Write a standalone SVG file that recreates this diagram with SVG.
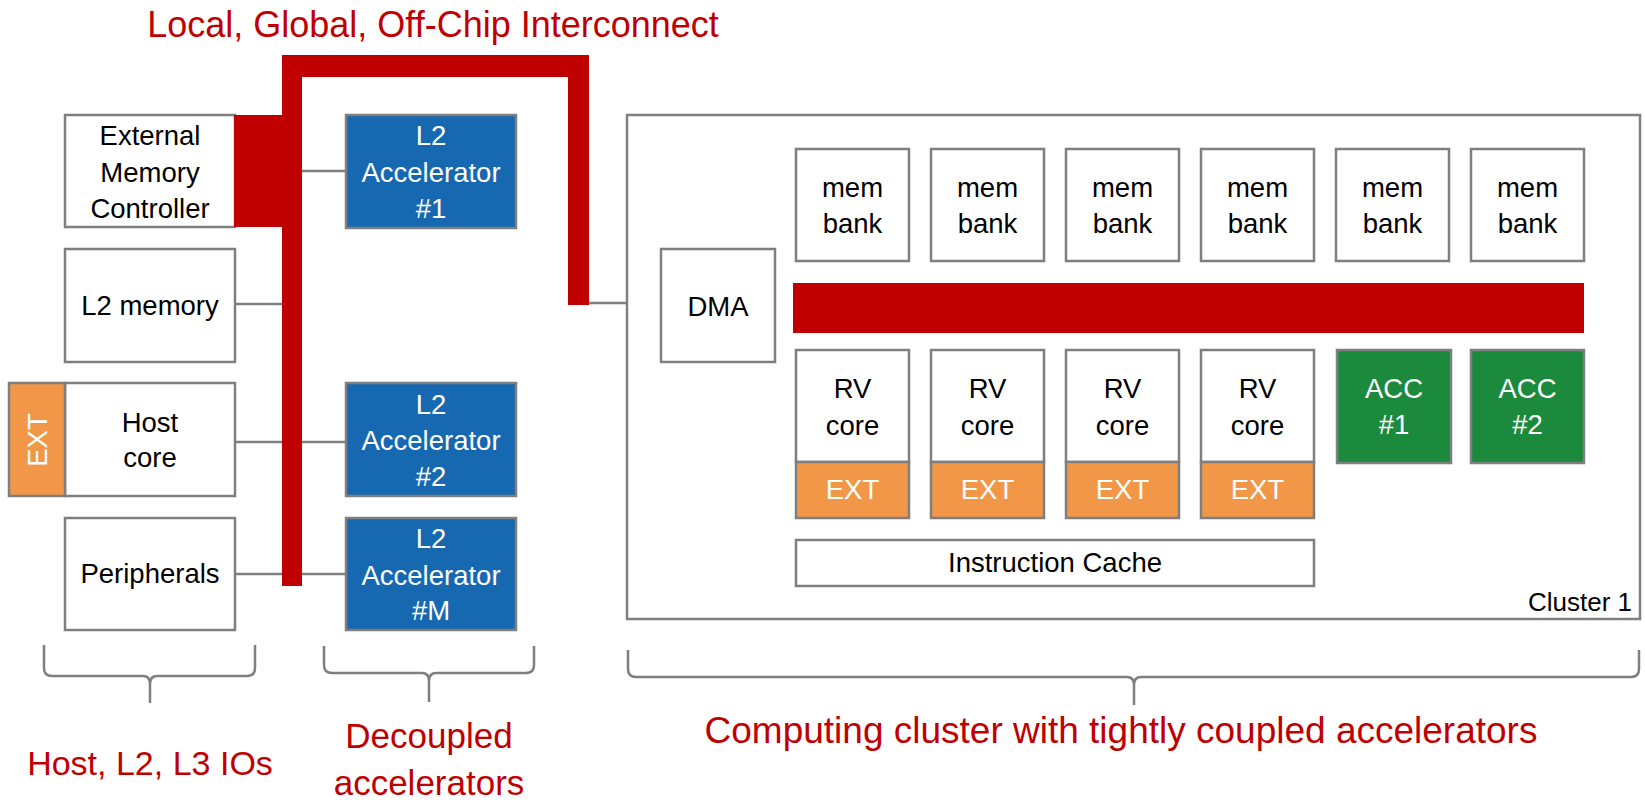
<svg xmlns="http://www.w3.org/2000/svg" width="1645" height="804" viewBox="0 0 1645 804">
<defs>
<style>
text{font-family:"Liberation Sans",Arial,sans-serif;}
.box{fill:#ffffff;stroke:#7f7f7f;stroke-width:2.5;}
.blue{fill:#1668b0;stroke:#7f7f7f;stroke-width:2.5;}
.green{fill:#1b8a3c;stroke:#7f7f7f;stroke-width:2.5;}
.orange{fill:#f29747;stroke:#7f7f7f;stroke-width:2.5;}
.red{fill:#c00000;}
.t{font-size:27.5px;fill:#000;text-anchor:middle;}
.tw{font-size:27.5px;fill:#fff;text-anchor:middle;}
.lbl{fill:#c00000;text-anchor:middle;}
.conn{stroke:#7f7f7f;stroke-width:2.5;fill:none;}
.lconn{stroke:#e3e3e3;stroke-width:2.5;fill:none;}
.brace{stroke:#7f7f7f;stroke-width:2.5;fill:none;}
</style>
</defs>
<rect width="1645" height="804" fill="#ffffff"/>

<text class="lbl" x="433" y="37" style="font-size:36px">Local, Global, Off-Chip Interconnect</text>

<g id="connectors">
<line class="conn" x1="235" y1="304" x2="283" y2="304"/>
<line class="conn" x1="301" y1="171" x2="346" y2="171"/>
<line class="conn" x1="235" y1="442" x2="283" y2="442"/>
<line class="conn" x1="301" y1="442" x2="346" y2="442"/>
<line class="conn" x1="235" y1="574" x2="283" y2="574"/>
<line class="conn" x1="301" y1="574" x2="346" y2="574"/>
<line class="conn" x1="588" y1="303" x2="628" y2="303"/>
<line class="lconn" x1="628" y1="305" x2="661" y2="305"/>
<line class="lconn" x1="775" y1="306" x2="793" y2="306"/>
<polyline class="lconn" points="645,305 645,562 796,562"/>
<line class="lconn" x1="852.5" y1="261" x2="852.5" y2="283"/>
<line class="lconn" x1="987.5" y1="261" x2="987.5" y2="283"/>
<line class="lconn" x1="1122.5" y1="261" x2="1122.5" y2="283"/>
<line class="lconn" x1="1257.5" y1="261" x2="1257.5" y2="283"/>
<line class="lconn" x1="1392.5" y1="261" x2="1392.5" y2="283"/>
<line class="lconn" x1="1527.5" y1="261" x2="1527.5" y2="283"/>
<line class="lconn" x1="852.5" y1="333" x2="852.5" y2="350"/>
<line class="lconn" x1="987.5" y1="333" x2="987.5" y2="350"/>
<line class="lconn" x1="1122.5" y1="333" x2="1122.5" y2="350"/>
<line class="lconn" x1="1257.5" y1="333" x2="1257.5" y2="350"/>
<line class="lconn" x1="1392.5" y1="333" x2="1392.5" y2="350"/>
<line class="lconn" x1="1527.5" y1="333" x2="1527.5" y2="350"/>
<line class="lconn" x1="852.5" y1="518" x2="852.5" y2="540"/>
<line class="lconn" x1="987.5" y1="518" x2="987.5" y2="540"/>
<line class="lconn" x1="1122.5" y1="518" x2="1122.5" y2="540"/>
<line class="lconn" x1="1257.5" y1="518" x2="1257.5" y2="540"/>
</g>

<g id="interconnect">
<rect class="red" x="282" y="55" width="20" height="531"/>
<rect class="red" x="282" y="55" width="307" height="22"/>
<rect class="red" x="568" y="55" width="21" height="250"/>
</g>

<g id="ext-mem-ctrl">
<rect class="box" x="65" y="115" width="170" height="112"/>
<rect class="red" x="234" y="115" width="49" height="112"/>
<text class="t" x="150" y="145">External</text>
<text class="t" x="150" y="182">Memory</text>
<text class="t" x="150" y="218">Controller</text>
</g>

<g id="l2-memory">
<rect class="box" x="65" y="249" width="170" height="113"/>
<text class="t" x="150" y="315">L2 memory</text>
</g>

<g id="host-core">
<rect class="box" x="65" y="383" width="170" height="113"/>
<text class="t" x="150" y="432">Host</text>
<text class="t" x="150" y="467">core</text>
</g>

<g id="host-ext">
<rect class="orange" x="9" y="383" width="56" height="113"/>
<text class="tw" transform="translate(37,440) rotate(-90)" x="0" y="9.5">EXT</text>
</g>

<g id="peripherals">
<rect class="box" x="65" y="518" width="170" height="112"/>
<text class="t" x="150" y="583">Peripherals</text>
</g>

<g id="l2-acc-1">
<rect class="blue" x="346" y="115" width="170" height="113"/>
<text class="tw" x="431" y="145">L2</text>
<text class="tw" x="431" y="182">Accelerator</text>
<text class="tw" x="431" y="218">#1</text>
</g>

<g id="l2-acc-2">
<rect class="blue" x="346" y="383" width="170" height="113"/>
<text class="tw" x="431" y="414">L2</text>
<text class="tw" x="431" y="450">Accelerator</text>
<text class="tw" x="431" y="486">#2</text>
</g>

<g id="l2-acc-m">
<rect class="blue" x="346" y="518" width="170" height="112"/>
<text class="tw" x="431" y="548">L2</text>
<text class="tw" x="431" y="585">Accelerator</text>
<text class="tw" x="431" y="620">#M</text>
</g>

<g id="cluster-1">
<rect class="box" x="627" y="115" width="1013" height="504"/>
<text x="1632" y="611" style="font-size:26px;text-anchor:end;fill:#000">Cluster 1</text>
</g>

<g id="dma">
<rect class="box" x="661" y="249" width="114" height="113"/>
<text class="t" x="718" y="316">DMA</text>
</g>

<g id="cluster-bus">
<rect class="red" x="793" y="283" width="791" height="50"/>
</g>

<g id="mem-bank-1"><rect class="box" x="796" y="149" width="113" height="112"/><text class="t" x="852.5" y="197">mem</text><text class="t" x="852.5" y="233">bank</text></g>
<g id="mem-bank-2"><rect class="box" x="931" y="149" width="113" height="112"/><text class="t" x="987.5" y="197">mem</text><text class="t" x="987.5" y="233">bank</text></g>
<g id="mem-bank-3"><rect class="box" x="1066" y="149" width="113" height="112"/><text class="t" x="1122.5" y="197">mem</text><text class="t" x="1122.5" y="233">bank</text></g>
<g id="mem-bank-4"><rect class="box" x="1201" y="149" width="113" height="112"/><text class="t" x="1257.5" y="197">mem</text><text class="t" x="1257.5" y="233">bank</text></g>
<g id="mem-bank-5"><rect class="box" x="1336" y="149" width="113" height="112"/><text class="t" x="1392.5" y="197">mem</text><text class="t" x="1392.5" y="233">bank</text></g>
<g id="mem-bank-6"><rect class="box" x="1471" y="149" width="113" height="112"/><text class="t" x="1527.5" y="197">mem</text><text class="t" x="1527.5" y="233">bank</text></g>

<g id="rv-core-1"><rect class="box" x="796" y="350" width="113" height="112"/><text class="t" x="852.5" y="398">RV</text><text class="t" x="852.5" y="435">core</text></g>
<g id="rv-core-2"><rect class="box" x="931" y="350" width="113" height="112"/><text class="t" x="987.5" y="398">RV</text><text class="t" x="987.5" y="435">core</text></g>
<g id="rv-core-3"><rect class="box" x="1066" y="350" width="113" height="112"/><text class="t" x="1122.5" y="398">RV</text><text class="t" x="1122.5" y="435">core</text></g>
<g id="rv-core-4"><rect class="box" x="1201" y="350" width="113" height="112"/><text class="t" x="1257.5" y="398">RV</text><text class="t" x="1257.5" y="435">core</text></g>

<g id="ext-1"><rect class="orange" x="796" y="462" width="113" height="56"/><text class="tw" x="852.5" y="499">EXT</text></g>
<g id="ext-2"><rect class="orange" x="931" y="462" width="113" height="56"/><text class="tw" x="987.5" y="499">EXT</text></g>
<g id="ext-3"><rect class="orange" x="1066" y="462" width="113" height="56"/><text class="tw" x="1122.5" y="499">EXT</text></g>
<g id="ext-4"><rect class="orange" x="1201" y="462" width="113" height="56"/><text class="tw" x="1257.5" y="499">EXT</text></g>

<g id="acc-1"><rect class="green" x="1337" y="350" width="114" height="113"/><text class="tw" x="1394" y="398">ACC</text><text class="tw" x="1394" y="434">#1</text></g>
<g id="acc-2"><rect class="green" x="1471" y="350" width="113" height="113"/><text class="tw" x="1527.5" y="398">ACC</text><text class="tw" x="1527.5" y="434">#2</text></g>

<g id="instruction-cache">
<rect class="box" x="796" y="540" width="518" height="46"/>
<text class="t" x="1055" y="572">Instruction Cache</text>
</g>

<g id="braces">
<path class="brace" d="M44,645 L44,668 Q44,676 52,676 L143,676 Q150,676 150,684 L150,703 M150,684 Q150,676 157,676 L247,676 Q255,676 255,668 L255,645"/>
<path class="brace" d="M324,646 L324,665 Q324,673 332,673 L422,673 Q429,673 429,681 L429,702 M429,681 Q429,673 436,673 L526,673 Q534,673 534,665 L534,646"/>
<path class="brace" d="M628,650 L628,669 Q628,677 636,677 L1127,677 Q1134,677 1134,685 L1134,705 M1134,685 Q1134,677 1141,677 L1631,677 Q1639,677 1639,669 L1639,650"/>
</g>

<g id="labels">
<text class="lbl" x="150" y="775" style="font-size:34px">Host, L2, L3 IOs</text>
<text class="lbl" x="429" y="748" style="font-size:35px">Decoupled</text>
<text class="lbl" x="429" y="795" style="font-size:35px">accelerators</text>
<text class="lbl" x="1121" y="743" style="font-size:37px">Computing cluster with tightly coupled accelerators</text>
</g>
</svg>
